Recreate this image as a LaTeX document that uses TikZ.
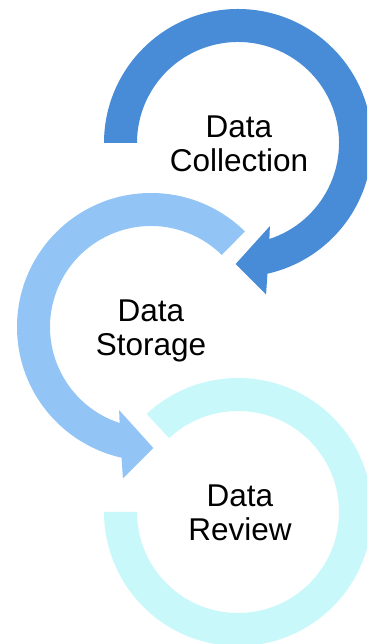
\documentclass[tikz,border=0pt]{standalone}
\usepackage{fontspec}
\setmainfont{Liberation Sans}
\usepackage{tikz}
\usetikzlibrary{positioning}
\definecolor{ringone}{RGB}{72,139,214}
\definecolor{ringtwo}{RGB}{146,197,245}
\definecolor{ringthree}{RGB}{200,248,250}

\begin{document}
\begin{tikzpicture}[x=1pt,y=1pt,
  steptext/.style={align=center,inner sep=0pt,anchor=north,font=\fontsize{31.5}{34}\selectfont}]
\clip (0,0) rectangle (367,644);
\fill[ringone, shift={(238,501)}] (180:134) arc (180:-77.3:134) -- (-79.5:154) -- (-91.1:121) -- (-69:89) -- (-71.9:101) arc (-71.9:180:101) -- cycle;
\fill[ringtwo, shift={(151,317)}] (45.5:134) arc (45.5:257.3:134) -- (259.5:154) -- (271.1:121) -- (249:89) -- (251.9:101) arc (251.9:45.5:101) -- cycle;
\fill[ringthree, shift={(238,132)}] (133:134) arc (133:-180:134) -- (180:101) arc (-180:133:101) -- cycle;
\node[steptext] (collection) at (239,528.6) {Data\\Collection};
\node[steptext] (storage) at (151,344.6) {Data\\Storage};
\node[steptext] (review) at (240,159.6) {Data\\Review};
\end{tikzpicture}
\end{document}
